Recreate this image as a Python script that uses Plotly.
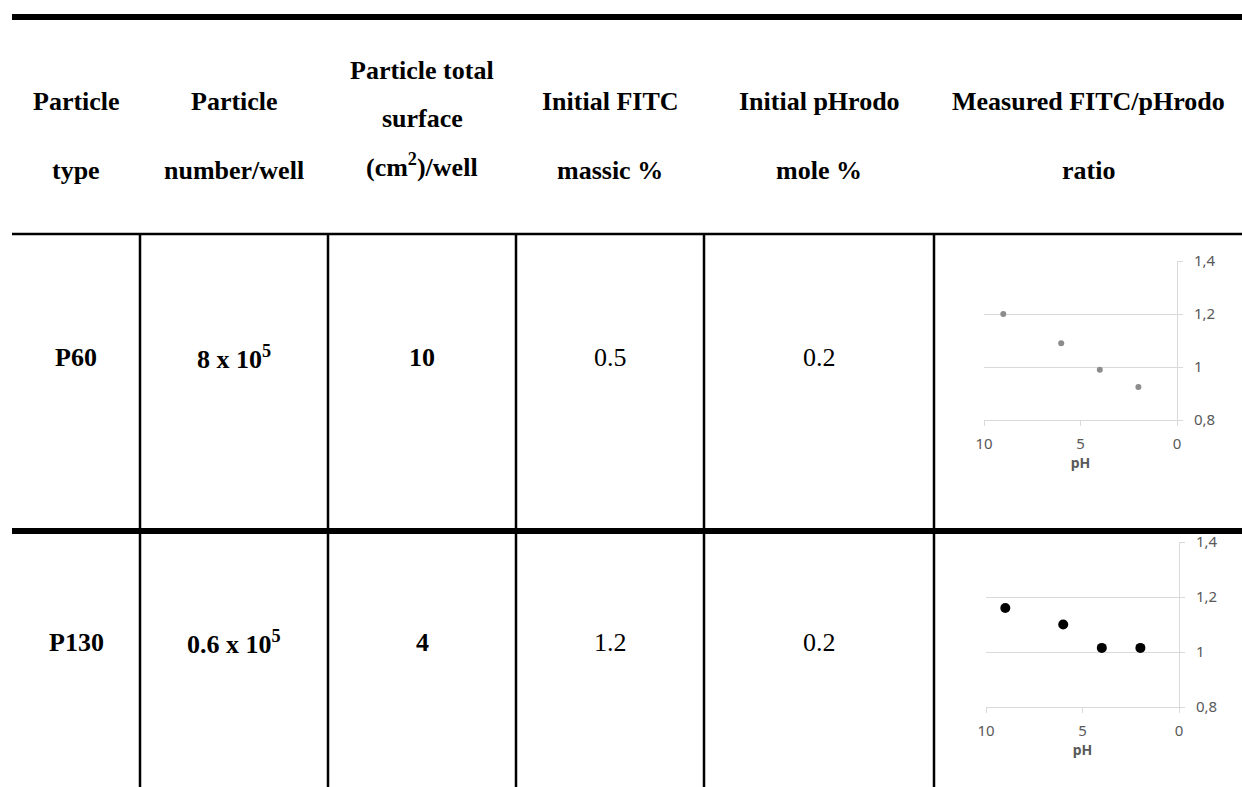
import plotly.graph_objects as go

# ---------------- data ----------------
particle_types = ["P60", "P130"]
particle_numbers = ["8 x 10<sup>5</sup>", "0.6 x 10<sup>5</sup>"]
surfaces = ["10", "4"]
fitc_massic = ["0.5", "1.2"]
phrodo_mole = ["0.2", "0.2"]

ph_values = [9, 6, 4, 2]
ratio_p60 = [1.2, 1.09, 0.99, 0.925]
ratio_p130 = [1.16, 1.10, 1.015, 1.015]

y_ticks = [0.8, 1, 1.2, 1.4]
x_ticks = [10, 5, 0]

headers = [
    ["Particle", "type"],
    ["Particle", "number/well"],
    ["Particle total", "surface", "(cm<sup>2</sup>)/well"],
    ["Initial FITC", "massic %"],
    ["Initial pHrodo", "mole %"],
    ["Measured FITC/pHrodo", "ratio"],
]

# ---------------- layout helpers ----------------
W, H = 1242, 787
def fx(x):
    return x / W
def fy(y):
    return 1 - y / H

col_edges = [12, 140, 328, 516, 704, 934, 1242]
col_centers = [(col_edges[i] + col_edges[i + 1]) / 2 for i in range(6)]
row_centers = [357, 642]
serif = "Liberation Serif"
sans = "Noto Sans"

fig = go.Figure()

chart_boxes = [  # x0, x1, ytop, ybottom in px
    (984, 1177, 261, 420),
    (986, 1179, 542, 707),
]
series = [ratio_p60, ratio_p130]
marker_styles = [dict(color="#8c8c8c", size=6), dict(color="#000000", size=10)]

for i, (box, vals, ms) in enumerate(zip(chart_boxes, series, marker_styles)):
    n = i + 1
    xa = "x" if n == 1 else f"x{n}"
    ya = "y" if n == 1 else f"y{n}"
    fig.add_trace(go.Scatter(x=ph_values, y=vals, mode="markers", marker=ms,
                             xaxis=xa, yaxis=ya, showlegend=False, hoverinfo="skip"))
    x0, x1, yt, yb = box
    xkey = "xaxis" if n == 1 else f"xaxis{n}"
    ykey = "yaxis" if n == 1 else f"yaxis{n}"
    fig.update_layout(**{
        xkey: dict(domain=[fx(x0), fx(x1)], range=[10, 0], anchor=ya,
                   tickvals=x_ticks, showgrid=False, zeroline=False,
                   showline=True, linecolor="#d9d9d9", linewidth=1,
                   ticks="outside", ticklen=5, tickcolor="#d9d9d9",
                   ticklabelstandoff=5,
                   tickfont=dict(family=sans, size=15, color="#595959"),
                   title=dict(text="<b>pH</b>", standoff=0,
                              font=dict(family=sans, size=14, color="#595959")),
                   automargin=False, fixedrange=True),
        ykey: dict(domain=[fy(yb), fy(yt)], range=[0.8, 1.4], anchor=xa, side="right",
                   tickvals=y_ticks, showgrid=True, gridcolor="#d9d9d9", gridwidth=1,
                   zeroline=False, showline=True, linecolor="#d9d9d9", linewidth=1,
                   ticks="outside", ticklen=5, tickcolor="#d9d9d9",
                   ticklabelstandoff=8,
                   tickfont=dict(family=sans, size=15, color="#595959"),
                   automargin=False, fixedrange=True),
    })

shapes = []
shapes.append(dict(type="line", xref="paper", yref="paper", x0=fx(12), x1=fx(1242),
                   y0=fy(17), y1=fy(17), line=dict(color="black", width=6)))
shapes.append(dict(type="line", xref="paper", yref="paper", x0=fx(12), x1=fx(1242),
                   y0=fy(234), y1=fy(234), line=dict(color="black", width=2.5)))
shapes.append(dict(type="line", xref="paper", yref="paper", x0=fx(12), x1=fx(1242),
                   y0=fy(531), y1=fy(531), line=dict(color="black", width=6)))
for xe in col_edges[1:-1]:
    shapes.append(dict(type="line", xref="paper", yref="paper", x0=fx(xe), x1=fx(xe),
                       y0=fy(234), y1=0, line=dict(color="black", width=2.5)))

annotations = []
def add_text(x, y, text, size=26, bold=True):
    t = f"<b>{text}</b>" if bold else text
    annotations.append(dict(x=fx(x), y=fy(y), xref="paper", yref="paper", text=t,
                            showarrow=False, xanchor="center", yanchor="middle",
                            font=dict(family=serif, size=size, color="black")))

for c, lines in enumerate(headers):
    ys = [101, 171] if len(lines) == 2 else [70, 118, 166]
    for ln, yy in zip(lines, ys):
        add_text(col_centers[c], yy, ln)

for r in range(2):
    yc = row_centers[r]
    add_text(col_centers[0], yc, particle_types[r])
    add_text(col_centers[1], yc, particle_numbers[r])
    add_text(col_centers[2], yc, surfaces[r])
    add_text(col_centers[3], yc, fitc_massic[r], bold=False)
    add_text(col_centers[4], yc, phrodo_mole[r], bold=False)

fig.update_layout(
    width=W, height=H,
    margin=dict(l=0, r=0, t=0, b=0, pad=0, autoexpand=False),
    paper_bgcolor="white", plot_bgcolor="white",
    separators=",.",
    shapes=shapes, annotations=annotations,
    showlegend=False,
)

fig.write_html(
    "out.html",
    config={"displayModeBar": False},
    post_script="document.body.style.margin='0';document.body.style.padding='0';"
                "document.documentElement.style.overflow='hidden';",
)
